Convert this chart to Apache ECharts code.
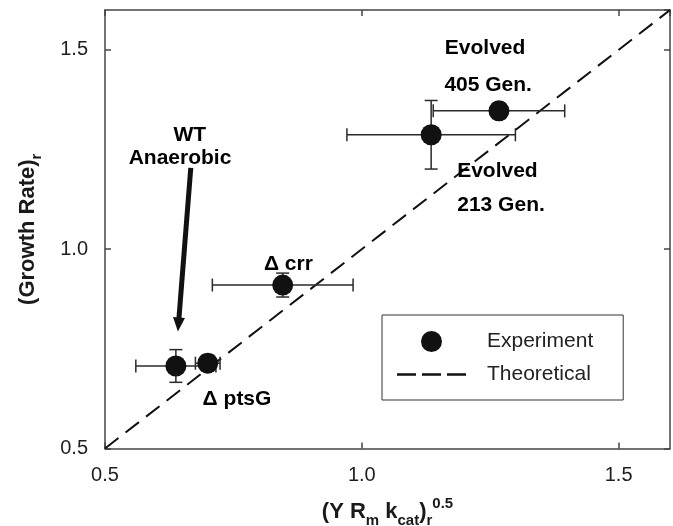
<!DOCTYPE html>
<html>
<head>
<meta charset="utf-8">
<script src="https://cdn.jsdelivr.net/npm/echarts@6/dist/echarts.min.js"></script>
<style>
  html, body { margin: 0; padding: 0; background: #fff; }
  #chart { width: 673px; height: 526px; }
</style>
</head>
<body>
<div id="chart"></div>
<script>
const FONT = '"Liberation Sans", Arial, Helvetica, sans-serif';

// Measured strains: relative (Y Rm kcat)^0.5 vs relative growth rate
const strains = ['WT Anaerobic', 'ΔptsG', 'Δcrr', 'Evolved 213 Gen.', 'Evolved 405 Gen.'];
const xValues = [0.638, 0.700, 0.846, 1.135, 1.267];
const yValues = [0.707, 0.714, 0.910, 1.287, 1.347];
const xErrors = [0.078, 0.024, 0.137, 0.164, 0.128];
const yErrors = [0.041, 0.020, 0.030, 0.086, 0.020];

// Theoretical prediction y = x across the axis range
const theoryX = [0.5, 1.6];
const theoryY = [0.5, 1.6];

// Axis range and tick labels
const axisMin = 0.5, axisMax = 1.6, axisStep = 0.5;
const tickLabels = ['0.5', '1.0', '1.5'];

// Text annotations, anchored in data coordinates
const noteX = [1.240, 1.246, 1.264, 1.271, 0.857, 0.757, 0.665, 0.646];
const noteY = [1.512, 1.420, 1.203, 1.119, 0.969, 0.630, 1.294, 1.236];
const noteText = ['Evolved', '405 Gen.', 'Evolved', '213 Gen.', 'Δ crr', 'Δ ptsG', 'WT', 'Anaerobic'];

// Arrow from the "WT Anaerobic" note down to its point (end = arrowhead centre)
const arrowFrom = [0.667, 1.204];
const arrowTo = [0.643, 0.811];

const INK = '#111';
const FRAME = '#444';

const experiment = xValues.map((x, i) => ({ name: strains[i], value: [x, yValues[i]] }));
const errorData = xValues.map((x, i) => [x, yValues[i], xErrors[i], yErrors[i]]);
const theory = theoryX.map((x, i) => [x, theoryY[i]]);
const notes = noteX.map((x, i) => ({ name: noteText[i], value: [x, noteY[i]] }));

function errorBar(params, api) {
  const x = api.value(0), y = api.value(1), ex = api.value(2), ey = api.value(3);
  const l = api.coord([x - ex, y]), r = api.coord([x + ex, y]);
  const t = api.coord([x, y + ey]), b = api.coord([x, y - ey]);
  const cap = 6.5;
  const style = { stroke: '#2a2a2a', lineWidth: 1.5, fill: null };
  const seg = (x1, y1, x2, y2) => ({ type: 'line', shape: { x1, y1, x2, y2 }, style });
  return {
    type: 'group',
    children: [
      seg(l[0], l[1], r[0], r[1]),
      seg(l[0], l[1] - cap, l[0], l[1] + cap),
      seg(r[0], r[1] - cap, r[0], r[1] + cap),
      seg(t[0], t[1], b[0], b[1]),
      seg(t[0] - cap, t[1], t[0] + cap, t[1]),
      seg(b[0] - cap, b[1], b[0] + cap, b[1])
    ]
  };
}

const tickFmt = v => {
  const i = Math.round((v - axisMin) / axisStep);
  return Math.abs(v - (axisMin + i * axisStep)) < 1e-9 ? tickLabels[i] : '';
};

const frameLine = { show: true, lineStyle: { color: FRAME, width: 1.5 } };
const innerTick = { show: true, inside: true, length: 6, lineStyle: { color: FRAME, width: 1.5 } };
const labelStyle = { fontSize: 20, color: '#1e1e1e', fontFamily: FONT };
const nameRich = {
  m: { fontSize: 22, fontWeight: 'bold', fontFamily: FONT, color: '#1a1a1a', lineHeight: 32 },
  s: { fontSize: 15, fontWeight: 'bold', fontFamily: FONT, color: '#1a1a1a', lineHeight: 16, verticalAlign: 'bottom' },
  p: { fontSize: 15, fontWeight: 'bold', fontFamily: FONT, color: '#1a1a1a', lineHeight: 14, verticalAlign: 'top' }
};

const baseAxis = { type: 'value', min: axisMin, max: axisMax, interval: axisStep, splitLine: { show: false } };

// Three short dashes for the "Theoretical" legend key
const dashIcon = 'path://M0,0h19v2.5h-19z M25,0h19v2.5h-19z M50,0h19v2.5h-19z';

const option = {
  animation: false,
  backgroundColor: '#fff',
  grid: { left: 105, top: 10, right: 3, bottom: 77.5, containLabel: false, outerBoundsMode: 'none' },
  legend: {
    data: [{ name: 'Experiment', icon: 'circle' }, { name: 'Theoretical', icon: dashIcon }],
    orient: 'vertical',
    left: 382, top: 315,
    padding: [16, 30, 15, 15],
    itemWidth: 69, itemHeight: 21, itemGap: 12,
    borderColor: '#333', borderWidth: 1,
    selectedMode: false,
    textStyle: { fontSize: 21, color: '#222', fontFamily: FONT, padding: [0, 0, 0, 16] }
  },
  xAxis: [
    Object.assign({}, baseAxis, {
      position: 'bottom',
      axisLine: frameLine, axisTick: innerTick,
      axisLabel: Object.assign({ margin: 17, formatter: tickFmt, showMaxLabel: false }, labelStyle),
      name: '{m|(Y R}{s|m}{m| k}{s|cat}{m|)}{s|r}{p|0.5}',
      nameLocation: 'middle', nameGap: 47.5,
      nameTextStyle: { rich: nameRich }
    }),
    Object.assign({}, baseAxis, {
      position: 'top',
      axisLine: frameLine, axisTick: innerTick, axisLabel: { show: false }
    })
  ],
  yAxis: [
    Object.assign({}, baseAxis, {
      position: 'left',
      axisLine: frameLine, axisTick: innerTick,
      axisLabel: Object.assign({ margin: 17, formatter: tickFmt, showMaxLabel: false }, labelStyle),
      name: '{m|(Growth Rate)}{s|r}',
      nameLocation: 'middle', nameGap: 61, nameRotate: 90,
      nameTextStyle: { rich: nameRich }
    }),
    Object.assign({}, baseAxis, {
      position: 'right',
      axisLine: frameLine, axisTick: innerTick, axisLabel: { show: false }
    })
  ],
  series: [
    {
      name: 'Theoretical',
      type: 'line',
      data: theory,
      symbol: 'none',
      silent: true,
      lineStyle: { color: INK, width: 2, type: [17, 9] },
      itemStyle: { color: INK },
      z: 2
    },
    {
      name: 'error',
      type: 'custom',
      data: errorData,
      encode: { x: 0, y: 1 },
      renderItem: errorBar,
      silent: true,
      z: 3
    },
    {
      name: 'Experiment',
      type: 'scatter',
      data: experiment,
      symbol: 'circle',
      symbolSize: 21,
      itemStyle: { color: INK, opacity: 1 },
      z: 4
    },
    {
      name: 'notes',
      type: 'scatter',
      data: notes,
      symbolSize: 0,
      silent: true,
      itemStyle: { opacity: 0 },
      label: {
        show: true,
        position: 'inside',
        offset: [0, 3],
        formatter: p => p.name,
        fontSize: 21,
        fontWeight: 'bold',
        fontFamily: FONT,
        color: '#000',
        opacity: 1,
        textBorderWidth: 0
      },
      markLine: {
        silent: true,
        symbol: ['none', 'triangle'],
        symbolSize: [12, 14],
        label: { show: false },
        lineStyle: { color: INK, width: 5, type: 'solid', opacity: 1 },
        emphasis: { disabled: true },
        data: [[{ coord: arrowFrom }, { coord: arrowTo }]]
      },
      z: 5
    }
  ]
};

const chart = echarts.init(document.getElementById('chart'), null, { renderer: 'canvas' });
chart.setOption(option);
</script>
</body>
</html>
